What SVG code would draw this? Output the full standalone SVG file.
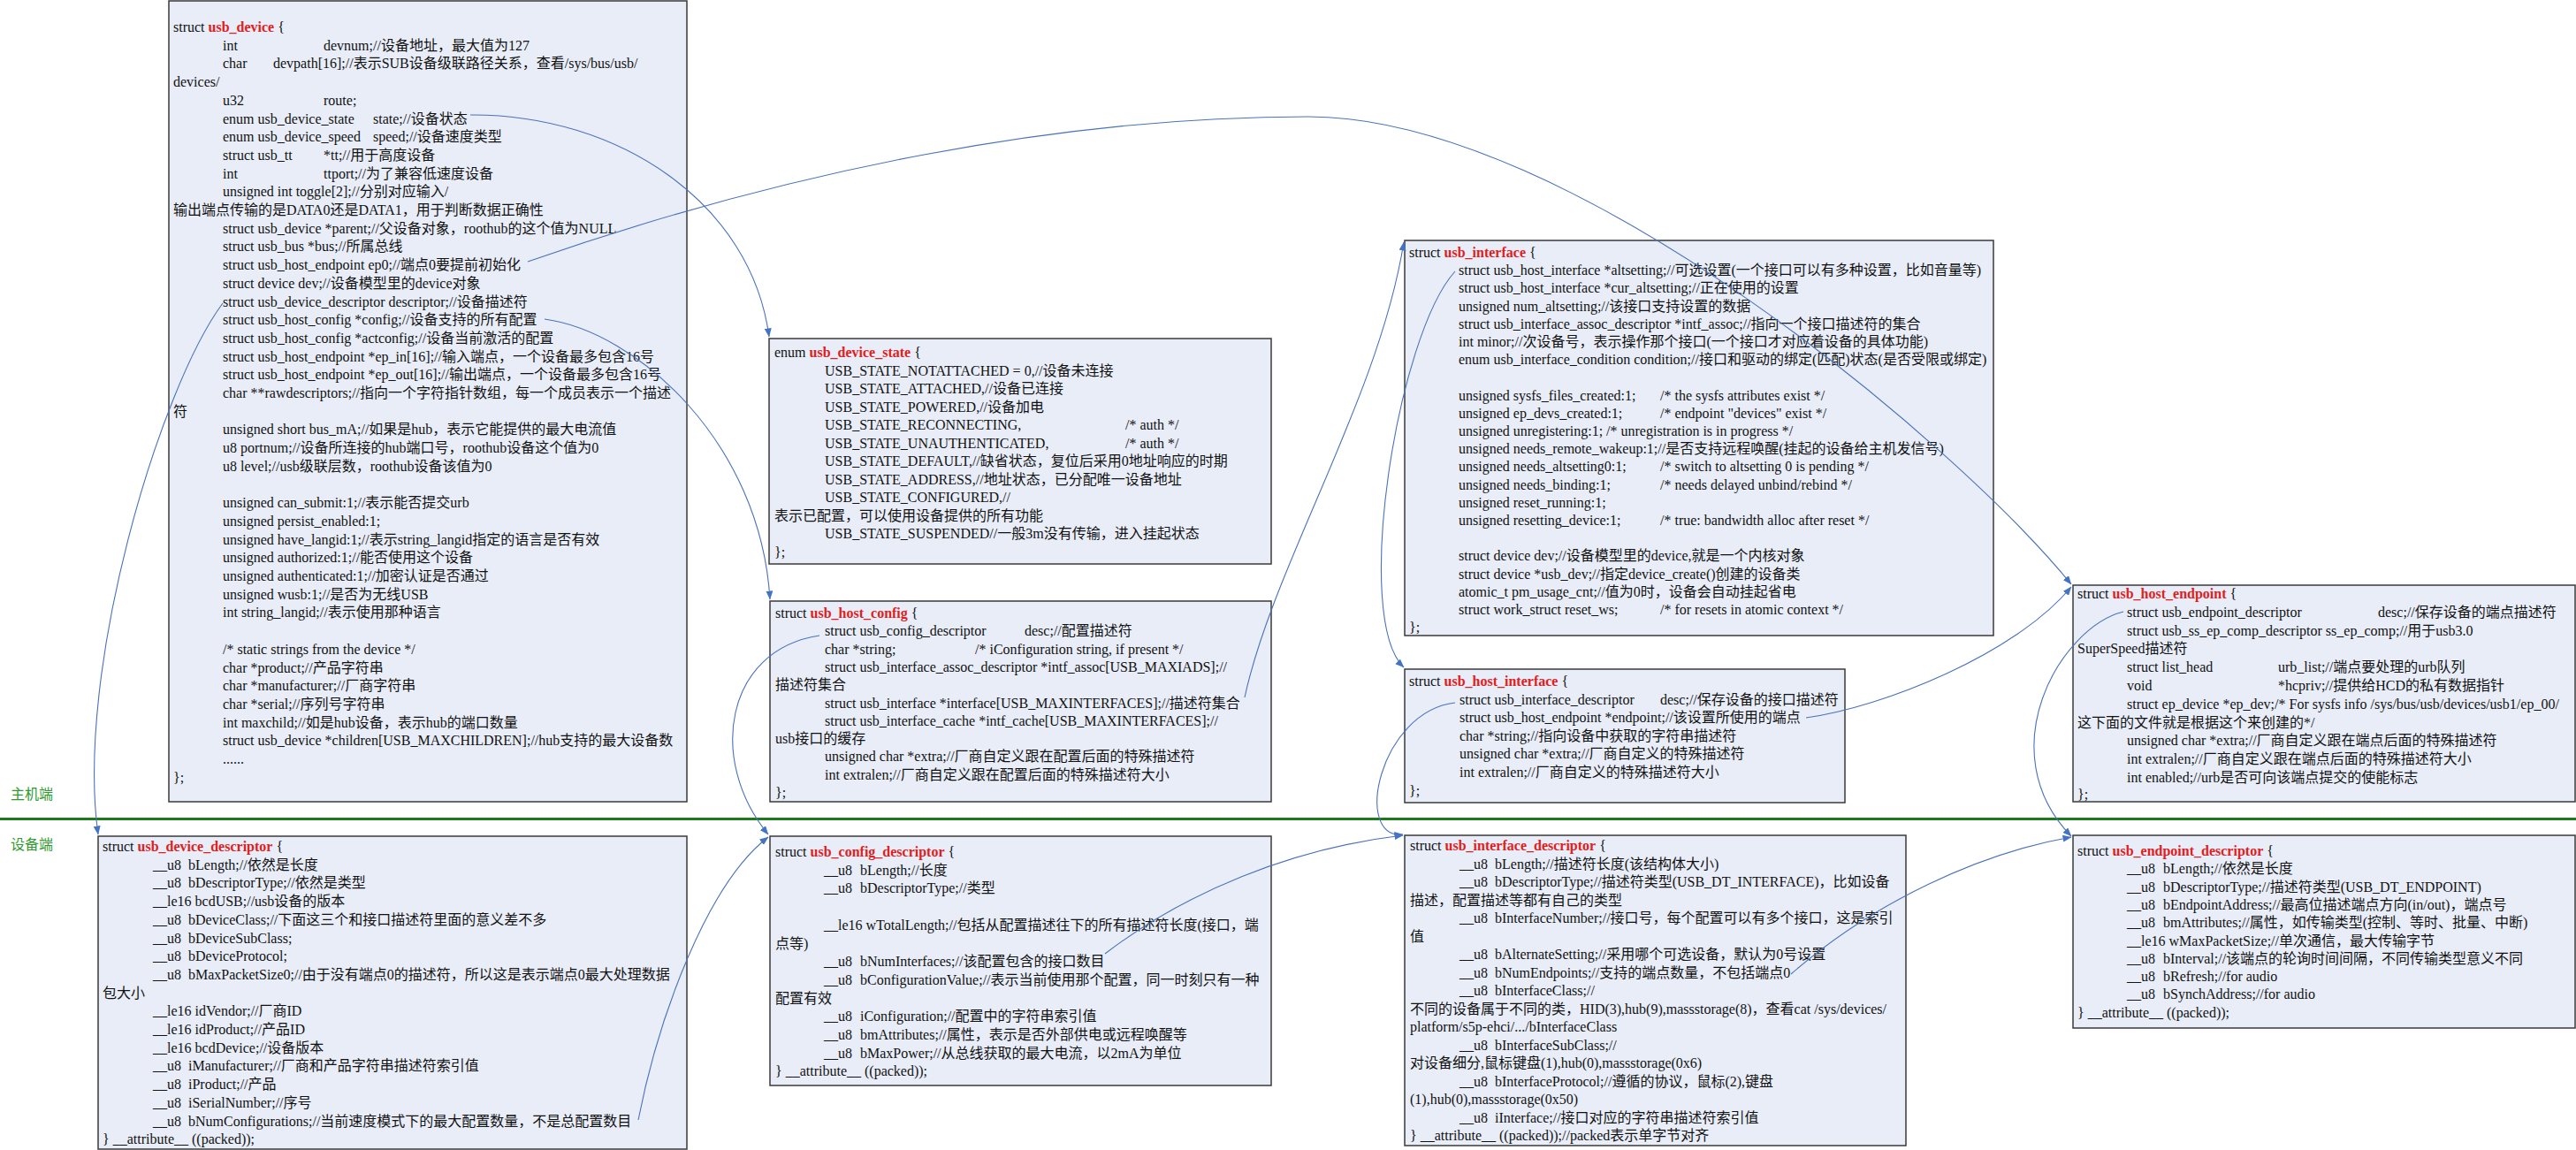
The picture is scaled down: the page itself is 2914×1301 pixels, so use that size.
<svg xmlns="http://www.w3.org/2000/svg" width="2914" height="1301" viewBox="0 0 2914 1301">
<style>
.bx{fill:#e8edf8;stroke:#3a3a3a;stroke-width:1.5}
text{font-family:"Liberation Serif","Noto Sans CJK SC",serif;font-size:16px;fill:#111}
.nm{fill:#e0201c;font-weight:bold}
.cn{fill:none;stroke:#4a72b8;stroke-width:1.1;marker-end:url(#ah)}
.lbl{fill:#2e9a2e;font-family:"Noto Sans CJK SC",sans-serif;font-size:16px}
</style>
<defs>
<marker id="ah" viewBox="0 0 10 8" refX="9.5" refY="4" markerWidth="10" markerHeight="8" markerUnits="userSpaceOnUse" orient="auto">
<path d="M0,0 L10,4 L0,8 Z" fill="#4472c4"/>
</marker>
</defs>
<rect x="0" y="0" width="2914" height="1301" fill="#ffffff"/>

<g id="side-labels">
<text class="lbl" x="12" y="904">主机端</text>
<text class="lbl" x="12" y="961">设备端</text>
<line x1="0" y1="926.5" x2="2914" y2="926.5" stroke="#1b7b1b" stroke-width="3"/>
</g>

<g id="usb_device">
<rect class="bx" x="191" y="1" width="586" height="906"/>
<text>
<tspan x="196" y="36">struct <tspan class="nm">usb_device</tspan> {</tspan>
<tspan x="252" y="56.7">int</tspan><tspan x="366" y="56.7">devnum;//设备地址，最大值为127</tspan>
<tspan x="252" y="77.4">char</tspan><tspan x="309" y="77.4">devpath[16];//表示SUB设备级联路径关系，查看/sys/bus/usb/</tspan>
<tspan x="196" y="98.1">devices/</tspan>
<tspan x="252" y="118.8">u32</tspan><tspan x="366" y="118.8">route;</tspan>
<tspan x="252" y="139.5">enum usb_device_state</tspan><tspan x="422" y="139.5">state;//设备状态</tspan>
<tspan x="252" y="160.2">enum usb_device_speed</tspan><tspan x="422" y="160.2">speed;//设备速度类型</tspan>
<tspan x="252" y="180.9">struct usb_tt</tspan><tspan x="366" y="180.9">*tt;//用于高度设备</tspan>
<tspan x="252" y="201.6">int</tspan><tspan x="366" y="201.6">ttport;//为了兼容低速度设备</tspan>
<tspan x="252" y="222.3">unsigned int toggle[2];//分别对应输入/</tspan>
<tspan x="196" y="243">输出端点传输的是DATA0还是DATA1，用于判断数据正确性</tspan>
<tspan x="252" y="263.7">struct usb_device *parent;//父设备对象，roothub的这个值为NULL</tspan>
<tspan x="252" y="284.4">struct usb_bus *bus;//所属总线</tspan>
<tspan x="252" y="305.1">struct usb_host_endpoint ep0;//端点0要提前初始化</tspan>
<tspan x="252" y="325.8">struct device dev;//设备模型里的device对象</tspan>
<tspan x="252" y="346.5">struct usb_device_descriptor descriptor;//设备描述符</tspan>
<tspan x="252" y="367.2">struct usb_host_config *config;//设备支持的所有配置</tspan>
<tspan x="252" y="387.9">struct usb_host_config *actconfig;//设备当前激活的配置</tspan>
<tspan x="252" y="408.6">struct usb_host_endpoint *ep_in[16];//输入端点，一个设备最多包含16号</tspan>
<tspan x="252" y="429.3">struct usb_host_endpoint *ep_out[16];//输出端点，一个设备最多包含16号</tspan>
<tspan x="252" y="450">char **rawdescriptors;//指向一个字符指针数组，每一个成员表示一个描述</tspan>
<tspan x="196" y="470.7">符</tspan>
<tspan x="252" y="491.4">unsigned short bus_mA;//如果是hub，表示它能提供的最大电流值</tspan>
<tspan x="252" y="512.1">u8 portnum;//设备所连接的hub端口号，roothub设备这个值为0</tspan>
<tspan x="252" y="532.8">u8 level;//usb级联层数，roothub设备该值为0</tspan>
<tspan x="252" y="574.2">unsigned can_submit:1;//表示能否提交urb</tspan>
<tspan x="252" y="594.9">unsigned persist_enabled:1;</tspan>
<tspan x="252" y="615.6">unsigned have_langid:1;//表示string_langid指定的语言是否有效</tspan>
<tspan x="252" y="636.3">unsigned authorized:1;//能否使用这个设备</tspan>
<tspan x="252" y="657">unsigned authenticated:1;//加密认证是否通过</tspan>
<tspan x="252" y="677.7">unsigned wusb:1;//是否为无线USB</tspan>
<tspan x="252" y="698.4">int string_langid;//表示使用那种语言</tspan>
<tspan x="252" y="739.8">/* static strings from the device */</tspan>
<tspan x="252" y="760.5">char *product;//产品字符串</tspan>
<tspan x="252" y="781.2">char *manufacturer;//厂商字符串</tspan>
<tspan x="252" y="801.9">char *serial;//序列号字符串</tspan>
<tspan x="252" y="822.6">int maxchild;//如是hub设备，表示hub的端口数量</tspan>
<tspan x="252" y="843.3">struct usb_device *children[USB_MAXCHILDREN];//hub支持的最大设备数</tspan>
<tspan x="252" y="864">......</tspan>
<tspan x="196" y="884.7">};</tspan>
</text>
</g>

<g id="usb_device_state">
<rect class="bx" x="870" y="383" width="568" height="255"/>
<text>
<tspan x="876" y="404">enum <tspan class="nm">usb_device_state</tspan> {</tspan>
<tspan x="933" y="424.5">USB_STATE_NOTATTACHED = 0,//设备未连接</tspan>
<tspan x="933" y="445">USB_STATE_ATTACHED,//设备已连接</tspan>
<tspan x="933" y="465.5">USB_STATE_POWERED,//设备加电</tspan>
<tspan x="933" y="486">USB_STATE_RECONNECTING,</tspan><tspan x="1273" y="486">/* auth */</tspan>
<tspan x="933" y="506.5">USB_STATE_UNAUTHENTICATED,</tspan><tspan x="1273" y="506.5">/* auth */</tspan>
<tspan x="933" y="527">USB_STATE_DEFAULT,//缺省状态，复位后采用0地址响应的时期</tspan>
<tspan x="933" y="547.5">USB_STATE_ADDRESS,//地址状态，已分配唯一设备地址</tspan>
<tspan x="933" y="568">USB_STATE_CONFIGURED,//</tspan>
<tspan x="876" y="588.5">表示已配置，可以使用设备提供的所有功能</tspan>
<tspan x="933" y="609">USB_STATE_SUSPENDED//一般3m没有传输，进入挂起状态</tspan>
<tspan x="876" y="629.5">};</tspan>
</text>
</g>

<g id="usb_host_config">
<rect class="bx" x="871" y="680" width="567" height="227"/>
<text>
<tspan x="877" y="699">struct <tspan class="nm">usb_host_config</tspan> {</tspan>
<tspan x="933" y="719.3">struct usb_config_descriptor</tspan><tspan x="1159" y="719.3">desc;//配置描述符</tspan>
<tspan x="933" y="739.6">char *string;</tspan><tspan x="1103" y="739.6">/* iConfiguration string, if present */</tspan>
<tspan x="933" y="759.9">struct usb_interface_assoc_descriptor *intf_assoc[USB_MAXIADS];//</tspan>
<tspan x="877" y="780.2">描述符集合</tspan>
<tspan x="933" y="800.5">struct usb_interface *interface[USB_MAXINTERFACES];//描述符集合</tspan>
<tspan x="933" y="820.8">struct usb_interface_cache *intf_cache[USB_MAXINTERFACES];//</tspan>
<tspan x="877" y="841.1">usb接口的缓存</tspan>
<tspan x="933" y="861.4">unsigned char *extra;//厂商自定义跟在配置后面的特殊描述符</tspan>
<tspan x="933" y="881.7">int extralen;//厂商自定义跟在配置后面的特殊描述符大小</tspan>
<tspan x="877" y="902">};</tspan>
</text>
</g>

<g id="usb_interface">
<rect class="bx" x="1589" y="272" width="666" height="447"/>
<text>
<tspan x="1594" y="291">struct <tspan class="nm">usb_interface</tspan> {</tspan>
<tspan x="1650" y="311.2">struct usb_host_interface *altsetting;//可选设置(一个接口可以有多种设置，比如音量等)</tspan>
<tspan x="1650" y="331.4">struct usb_host_interface *cur_altsetting;//正在使用的设置</tspan>
<tspan x="1650" y="351.6">unsigned num_altsetting;//该接口支持设置的数据</tspan>
<tspan x="1650" y="371.8">struct usb_interface_assoc_descriptor *intf_assoc;//指向一个接口描述符的集合</tspan>
<tspan x="1650" y="392">int minor;//次设备号，表示操作那个接口(一个接口才对应着设备的具体功能)</tspan>
<tspan x="1650" y="412.2">enum usb_interface_condition condition;//接口和驱动的绑定(匹配)状态(是否受限或绑定)</tspan>
<tspan x="1650" y="452.6">unsigned sysfs_files_created:1;</tspan><tspan x="1878" y="452.6">/* the sysfs attributes exist */</tspan>
<tspan x="1650" y="472.8">unsigned ep_devs_created:1;</tspan><tspan x="1878" y="472.8">/* endpoint "devices" exist */</tspan>
<tspan x="1650" y="493">unsigned unregistering:1;  /* unregistration is in progress */</tspan>
<tspan x="1650" y="513.2">unsigned needs_remote_wakeup:1;//是否支持远程唤醒(挂起的设备给主机发信号)</tspan>
<tspan x="1650" y="533.4">unsigned needs_altsetting0:1;</tspan><tspan x="1878" y="533.4">/* switch to altsetting 0 is pending */</tspan>
<tspan x="1650" y="553.6">unsigned needs_binding:1;</tspan><tspan x="1878" y="553.6">/* needs delayed unbind/rebind */</tspan>
<tspan x="1650" y="573.8">unsigned reset_running:1;</tspan>
<tspan x="1650" y="594">unsigned resetting_device:1;</tspan><tspan x="1878" y="594">/* true: bandwidth alloc after reset */</tspan>
<tspan x="1650" y="634.4">struct device dev;//设备模型里的device,就是一个内核对象</tspan>
<tspan x="1650" y="654.6">struct device *usb_dev;//指定device_create()创建的设备类</tspan>
<tspan x="1650" y="674.8">atomic_t pm_usage_cnt;//值为0时，设备会自动挂起省电</tspan>
<tspan x="1650" y="695">struct work_struct reset_ws;</tspan><tspan x="1878" y="695">/* for resets in atomic context */</tspan>
<tspan x="1594" y="715.2">};</tspan>
</text>
</g>

<g id="usb_host_interface">
<rect class="bx" x="1589" y="757" width="498" height="151"/>
<text>
<tspan x="1594" y="776">struct <tspan class="nm">usb_host_interface</tspan> {</tspan>
<tspan x="1651" y="796.6">struct usb_interface_descriptor</tspan><tspan x="1878" y="796.6">desc;//保存设备的接口描述符</tspan>
<tspan x="1651" y="817.2">struct usb_host_endpoint *endpoint;//该设置所使用的端点</tspan>
<tspan x="1651" y="837.8">char *string;//指向设备中获取的字符串描述符</tspan>
<tspan x="1651" y="858.4">unsigned char *extra;//厂商自定义的特殊描述符</tspan>
<tspan x="1651" y="879">int extralen;//厂商自定义的特殊描述符大小</tspan>
<tspan x="1594" y="899.6">};</tspan>
</text>
</g>

<g id="usb_host_endpoint">
<rect class="bx" x="2345" y="662" width="568" height="245"/>
<text>
<tspan x="2350" y="677">struct <tspan class="nm">usb_host_endpoint</tspan> {</tspan>
<tspan x="2406" y="697.8">struct usb_endpoint_descriptor</tspan><tspan x="2690" y="697.8">desc;//保存设备的端点描述符</tspan>
<tspan x="2406" y="718.6">struct usb_ss_ep_comp_descriptor ss_ep_comp;//用于usb3.0</tspan>
<tspan x="2350" y="739.4">SuperSpeed描述符</tspan>
<tspan x="2406" y="760.2">struct list_head</tspan><tspan x="2577" y="760.2">urb_list;//端点要处理的urb队列</tspan>
<tspan x="2406" y="781">void</tspan><tspan x="2577" y="781">*hcpriv;//提供给HCD的私有数据指针</tspan>
<tspan x="2406" y="801.8">struct ep_device  *ep_dev;/* For sysfs info /sys/bus/usb/devices/usb1/ep_00/</tspan>
<tspan x="2350" y="822.6">这下面的文件就是根据这个来创建的*/</tspan>
<tspan x="2406" y="843.4">unsigned char *extra;//厂商自定义跟在端点后面的特殊描述符</tspan>
<tspan x="2406" y="864.2">int extralen;//厂商自定义跟在端点后面的特殊描述符大小</tspan>
<tspan x="2406" y="885">int enabled;//urb是否可向该端点提交的使能标志</tspan>
<tspan x="2350" y="904">};</tspan>
</text>
</g>

<g id="usb_device_descriptor">
<rect class="bx" x="111" y="946" width="666" height="354"/>
<text>
<tspan x="116" y="963">struct <tspan class="nm">usb_device_descriptor</tspan> {</tspan>
<tspan x="173" y="983.7">__u8</tspan><tspan x="213" y="983.7">bLength;//依然是长度</tspan>
<tspan x="173" y="1004.4">__u8</tspan><tspan x="213" y="1004.4">bDescriptorType;//依然是类型</tspan>
<tspan x="173" y="1025.1">__le16 bcdUSB;//usb设备的版本</tspan>
<tspan x="173" y="1045.8">__u8</tspan><tspan x="213" y="1045.8">bDeviceClass;//下面这三个和接口描述符里面的意义差不多</tspan>
<tspan x="173" y="1066.5">__u8</tspan><tspan x="213" y="1066.5">bDeviceSubClass;</tspan>
<tspan x="173" y="1087.2">__u8</tspan><tspan x="213" y="1087.2">bDeviceProtocol;</tspan>
<tspan x="173" y="1107.9">__u8</tspan><tspan x="213" y="1107.9">bMaxPacketSize0;//由于没有端点0的描述符，所以这是表示端点0最大处理数据</tspan>
<tspan x="116" y="1128.6">包大小</tspan>
<tspan x="173" y="1149.3">__le16 idVendor;//厂商ID</tspan>
<tspan x="173" y="1170">__le16 idProduct;//产品ID</tspan>
<tspan x="173" y="1190.7">__le16 bcdDevice;//设备版本</tspan>
<tspan x="173" y="1211.4">__u8</tspan><tspan x="213" y="1211.4">iManufacturer;//厂商和产品字符串描述符索引值</tspan>
<tspan x="173" y="1232.1">__u8</tspan><tspan x="213" y="1232.1">iProduct;//产品</tspan>
<tspan x="173" y="1252.8">__u8</tspan><tspan x="213" y="1252.8">iSerialNumber;//序号</tspan>
<tspan x="173" y="1273.5">__u8</tspan><tspan x="213" y="1273.5">bNumConfigurations;//当前速度模式下的最大配置数量，不是总配置数目</tspan>
<tspan x="116" y="1294.2">} __attribute__ ((packed));</tspan>
</text>
</g>

<g id="usb_config_descriptor">
<rect class="bx" x="871" y="946" width="567" height="282"/>
<text>
<tspan x="877" y="969">struct <tspan class="nm">usb_config_descriptor</tspan> {</tspan>
<tspan x="932" y="989.7">__u8</tspan><tspan x="973" y="989.7">bLength;//长度</tspan>
<tspan x="932" y="1010.4">__u8</tspan><tspan x="973" y="1010.4">bDescriptorType;//类型</tspan>
<tspan x="932" y="1051.8">__le16 wTotalLength;//包括从配置描述往下的所有描述符长度(接口，端</tspan>
<tspan x="877" y="1072.5">点等)</tspan>
<tspan x="932" y="1093.2">__u8</tspan><tspan x="973" y="1093.2">bNumInterfaces;//该配置包含的接口数目</tspan>
<tspan x="932" y="1113.9">__u8</tspan><tspan x="973" y="1113.9">bConfigurationValue;//表示当前使用那个配置，同一时刻只有一种</tspan>
<tspan x="877" y="1134.6">配置有效</tspan>
<tspan x="932" y="1155.3">__u8</tspan><tspan x="973" y="1155.3">iConfiguration;//配置中的字符串索引值</tspan>
<tspan x="932" y="1176">__u8</tspan><tspan x="973" y="1176">bmAttributes;//属性，表示是否外部供电或远程唤醒等</tspan>
<tspan x="932" y="1196.7">__u8</tspan><tspan x="973" y="1196.7">bMaxPower;//从总线获取的最大电流，以2mA为单位</tspan>
<tspan x="877" y="1217.4">} __attribute__ ((packed));</tspan>
</text>
</g>

<g id="usb_interface_descriptor">
<rect class="bx" x="1589" y="945" width="567" height="351"/>
<text>
<tspan x="1595" y="962">struct <tspan class="nm">usb_interface_descriptor</tspan> {</tspan>
<tspan x="1651" y="982.5">__u8</tspan><tspan x="1691" y="982.5">bLength;//描述符长度(该结构体大小)</tspan>
<tspan x="1651" y="1003">__u8</tspan><tspan x="1691" y="1003">bDescriptorType;//描述符类型(USB_DT_INTERFACE)，比如设备</tspan>
<tspan x="1595" y="1023.5">描述，配置描述等都有自己的类型</tspan>
<tspan x="1651" y="1044">__u8</tspan><tspan x="1691" y="1044">bInterfaceNumber;//接口号，每个配置可以有多个接口，这是索引</tspan>
<tspan x="1595" y="1064.5">值</tspan>
<tspan x="1651" y="1085">__u8</tspan><tspan x="1691" y="1085">bAlternateSetting;//采用哪个可选设备，默认为0号设置</tspan>
<tspan x="1651" y="1105.5">__u8</tspan><tspan x="1691" y="1105.5">bNumEndpoints;//支持的端点数量，不包括端点0</tspan>
<tspan x="1651" y="1126">__u8</tspan><tspan x="1691" y="1126">bInterfaceClass;//</tspan>
<tspan x="1595" y="1146.5">不同的设备属于不同的类，HID(3),hub(9),massstorage(8)，查看cat /sys/devices/</tspan>
<tspan x="1595" y="1167">platform/s5p-ehci/.../bInterfaceClass</tspan>
<tspan x="1651" y="1187.5">__u8</tspan><tspan x="1691" y="1187.5">bInterfaceSubClass;//</tspan>
<tspan x="1595" y="1208">对设备细分,鼠标键盘(1),hub(0),massstorage(0x6)</tspan>
<tspan x="1651" y="1228.5">__u8</tspan><tspan x="1691" y="1228.5">bInterfaceProtocol;//遵循的协议，鼠标(2),键盘</tspan>
<tspan x="1595" y="1249">(1),hub(0),massstorage(0x50)</tspan>
<tspan x="1651" y="1269.5">__u8</tspan><tspan x="1691" y="1269.5">iInterface;//接口对应的字符串描述符索引值</tspan>
<tspan x="1595" y="1290">} __attribute__ ((packed));//packed表示单字节对齐</tspan>
</text>
</g>

<g id="usb_endpoint_descriptor">
<rect class="bx" x="2345" y="945" width="568" height="218"/>
<text>
<tspan x="2350" y="968">struct <tspan class="nm">usb_endpoint_descriptor</tspan> {</tspan>
<tspan x="2406" y="988.3">__u8</tspan><tspan x="2447" y="988.3">bLength;//依然是长度</tspan>
<tspan x="2406" y="1008.6">__u8</tspan><tspan x="2447" y="1008.6">bDescriptorType;//描述符类型(USB_DT_ENDPOINT)</tspan>
<tspan x="2406" y="1028.9">__u8</tspan><tspan x="2447" y="1028.9">bEndpointAddress;//最高位描述端点方向(in/out)，端点号</tspan>
<tspan x="2406" y="1049.2">__u8</tspan><tspan x="2447" y="1049.2">bmAttributes;//属性，如传输类型(控制、等时、批量、中断)</tspan>
<tspan x="2406" y="1069.5">__le16 wMaxPacketSize;//单次通信，最大传输字节</tspan>
<tspan x="2406" y="1089.8">__u8</tspan><tspan x="2447" y="1089.8">bInterval;//该端点的轮询时间间隔，不同传输类型意义不同</tspan>
<tspan x="2406" y="1110.1">__u8</tspan><tspan x="2447" y="1110.1">bRefresh;//for audio</tspan>
<tspan x="2406" y="1130.4">__u8</tspan><tspan x="2447" y="1130.4">bSynchAddress;//for audio</tspan>
<tspan x="2350" y="1150.7">} __attribute__ ((packed));</tspan>
</text>
</g>

<g id="connectors">
<path class="cn" d="M532,130 C700,129 850,230 870,381"/>
<path class="cn" d="M597,296 C895,192 1200,132 1480,132 C1780,132 2217,506 2343,661"/>
<path class="cn" d="M252,343 C180,440 85,760 111,944"/>
<path class="cn" d="M616,361 C720,375 860,500 871,678"/>
<path class="cn" d="M927,719 C820,735 800,860 869,944"/>
<path class="cn" d="M1408,789 C1440,640 1560,450 1588,274"/>
<path class="cn" d="M1646,307 C1580,380 1530,700 1588,755"/>
<path class="cn" d="M1646,795 C1560,805 1530,950 1587,944"/>
<path class="cn" d="M2043,812 C2130,800 2280,740 2343,664"/>
<path class="cn" d="M2402,692 C2330,710 2250,850 2343,946"/>
<path class="cn" d="M722,1267 C745,1150 800,1000 869,947"/>
<path class="cn" d="M1250,1079 C1340,1010 1460,960 1587,945"/>
<path class="cn" d="M2026,1102 C2120,1020 2240,965 2343,947"/>
</g>
</svg>
